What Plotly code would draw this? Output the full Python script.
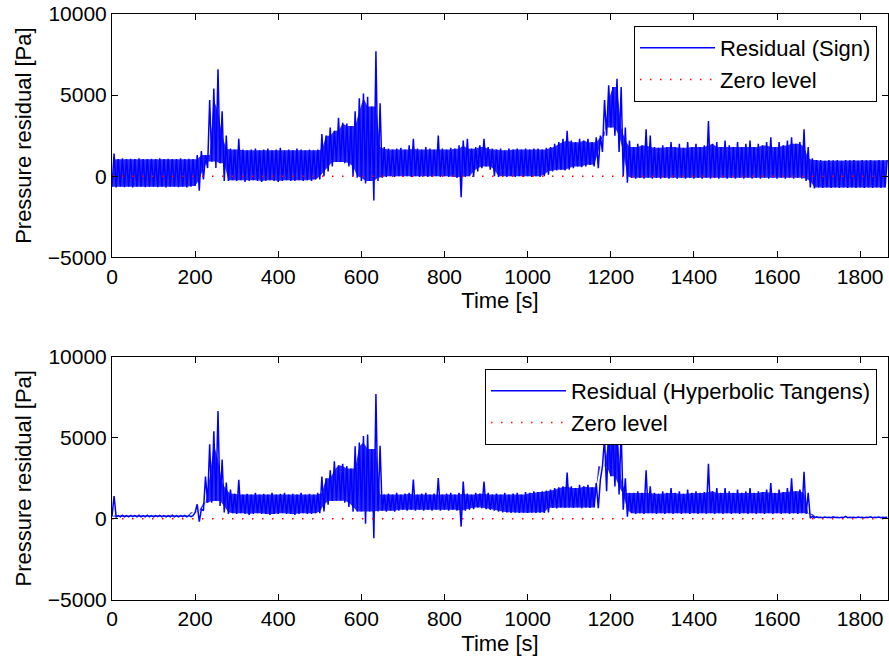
import plotly.graph_objects as go
from plotly.subplots import make_subplots

# Sample spacing of the envelope readings [s]
step_s = 10
# Residual (Sign): upper and lower envelope, one value per 10 s (0 .. 1860 s)
sign_hi = [
    1400, 1050, 1100, 1050, 1080, 1050, 1100, 1050, 1050, 1080,
    1050, 1100, 1050, 1080, 1050, 1050, 1100, 1050, 1080, 1050,
    1300, 1550, 1300, 4700, 5400, 6600, 4000, 2500, 1700, 1650,
    2300, 1650, 1600, 1650, 1700, 1600, 1650, 1700, 1600, 1650,
    1750, 1600, 1650, 1600, 1700, 1650, 1600, 1650, 1600, 1650,
    2600, 2500, 3000, 2800, 3600, 3300, 3250, 3100, 4000, 4800,
    5100, 4900, 4300, 7700, 4500, 1800, 1700, 1650, 1700, 1750,
    1650, 1900, 2300, 1700, 1650, 1800, 1700, 1650, 2500, 1700,
    1650, 1750, 1700, 1900, 2200, 2300, 1700, 1800, 1900, 2300,
    1800, 1700, 1650, 1700, 1600, 1700, 1650, 1700, 1650, 1700,
    1650, 1700, 1700, 1650, 1750, 1800, 2000, 2100, 2300, 2800,
    2200, 2100, 2300, 2200, 2300, 2100, 2400, 2500, 4700, 5600,
    5500, 6000, 5500, 3000, 2200, 1800, 2000, 1900, 2900, 2500,
    1800, 1750, 1900, 1800, 2100, 1800, 2000, 1750, 2100, 1800,
    2000, 1800, 1900, 3400, 2000, 2100, 1800, 2200, 1900, 1800,
    2100, 1800, 2000, 2200, 1800, 2000, 1900, 2100, 2400, 1800,
    2100, 1900, 2200, 2400, 2000, 2100, 2900, 1800, 1100, 1000,
    1000, 950, 1000, 980, 1000, 950, 1000, 980, 1000, 950,
    1000, 980, 1000, 950, 1000, 980, 1000,
]
sign_lo = [
    -650, -700, -650, -680, -650, -700, -650, -650, -680, -650,
    -650, -680, -650, -700, -650, -650, -680, -650, -700, -650,
    -600, -900, -200, 500, 900, 500, 800, -300, -300, -250,
    -300, -250, -350, -300, -250, -300, -350, -300, -250, -300,
    -350, -300, -250, -300, -300, -250, -300, -250, -300, -200,
    -200, 0, 300, 600, 880, 880, 800, 600, 0, -100,
    -300, -450, -300, -1500, -300, -100, -50, 0, -50, 0,
    -50, 0, -50, 0, -50, 0, -50, -50, 0, -50,
    0, -50, -50, -100, -1300, -50, 0, -50, 300, 500,
    600, 400, 0, -50, 0, -50, 0, -50, 0, -50,
    0, -50, 0, -50, 0, 100, 300, 350, 400, 350,
    400, 500, 600, 550, 600, 700, 600, 500, 1500, 2500,
    3000, 2500, 1500, 0, -400, -100, -150, -100, -150, -100,
    -150, -100, -150, -100, -150, -100, -150, -100, -150, -100,
    -150, -100, -150, -100, -150, -100, -150, -100, -150, -100,
    -150, -100, -150, -100, -150, -100, -150, -100, -150, -100,
    -150, -100, -150, -100, -150, -100, -150, -300, -700, -750,
    -700, -720, -700, -720, -700, -720, -700, -720, -700, -720,
    -700, -720, -700, -720, -700, -720, -700,
]
# Residual (Hyperbolic Tangens): upper and lower envelope
tanh_hi = [
    1400, 200, 220, 200, 210, 200, 220, 200, 230, 200,
    200, 210, 200, 200, 220, 200, 200, 210, 200, 200,
    900, 600, 2600, 4600, 5400, 6650, 3650, 2230, 1800, 1550,
    2400, 1500, 1550, 1500, 1600, 1500, 1550, 1500, 1600, 1500,
    1550, 1600, 1500, 1550, 1500, 1600, 1500, 1550, 1500, 1600,
    2600, 2500, 3000, 3550, 3300, 3400, 3250, 3100, 4480, 4700,
    5100, 5200, 4300, 7700, 4500, 1500, 1550, 1500, 1600, 1500,
    1550, 1600, 2420, 1500, 1550, 1600, 1500, 1550, 2520, 1500,
    1550, 1600, 1500, 1600, 2300, 1550, 1500, 1600, 1550, 2300,
    1600, 1500, 1550, 1500, 1600, 1500, 1550, 1600, 1500, 1650,
    1600, 1700, 1650, 1700, 1750, 1800, 1900, 1950, 2000, 2850,
    2000, 1900, 2100, 2000, 2100, 1950, 2200, 2400, 5000, 5600,
    5500, 5800, 5400, 2500, 1600, 1600, 1700, 1600, 3000, 2000,
    1600, 1550, 1700, 1600, 1900, 1600, 1700, 1550, 1800, 1600,
    1700, 1600, 1650, 3400, 1700, 1900, 1600, 1900, 1700, 1600,
    1800, 1600, 1700, 1900, 1600, 1700, 1650, 1800, 2200, 1600,
    1800, 1650, 1900, 2500, 1700, 1800, 2900, 1600, 150, 120,
    100, 110, 100, 120, 100, 100, 150, 100, 100, 110,
    100, 100, 130, 100, 110, 100, 100,
]
tanh_lo = [
    150, 120, 120, 130, 120, 130, 120, 130, 120, 130,
    120, 130, 120, 120, 130, 120, 120, 130, 120, 140,
    400, -170, 500, 1000, 1000, 1100, 800, 400, 300, 350,
    300, 350, 300, 250, 300, 350, 300, 300, 250, 300,
    300, 350, 300, 300, 250, 300, 350, 300, 300, 350,
    350, 450, 870, 1100, 1120, 1120, 1000, 740, 440, 450,
    450, -300, 450, -1200, 450, 500, 450, 500, 450, 500,
    560, 500, 560, 500, 560, 500, 560, 500, 560, 500,
    560, 500, 560, 500, -480, 500, 560, 600, 700, 650,
    600, 560, 500, 450, 400, 400, 370, 380, 370, 380,
    370, 380, 370, 380, 370, 400, 680, 650, 700, 680,
    700, 680, 700, 650, 700, 680, 700, 650, 3240, 1700,
    2620, 2000, 1500, 560, 140, 350, 300, 350, 300, 350,
    350, 300, 350, 300, 350, 300, 350, 300, 350, 300,
    350, 300, 350, 300, 350, 300, 350, 300, 350, 300,
    350, 300, 350, 300, 350, 300, 350, 300, 350, 300,
    350, 300, 350, 300, 350, 300, 350, 300, 50, 60,
    80, 70, 80, 70, 80, 70, 80, 70, 80, 70,
    80, 70, 80, 70, 80, 70, 80,
]
zero_level = 0
x_max = 1867
x_ticks = [0, 200, 400, 600, 800, 1000, 1200, 1400, 1600, 1800]
y_ticks = [-5000, 0, 5000, 10000]
y_tick_labels = ["\u22125000", "0", "5000", "10000"]


def zigzag(lo, hi):
    xs, ys = [], []
    for i, (a, b) in enumerate(zip(lo, hi)):
        t = i * step_s
        xs += [t, t + step_s / 2]
        ys += [a, b]
    return xs, ys


def core_band(lo, hi):
    """Dense core of the oscillation: isolated spikes/dips stay as line strokes only."""
    n = len(lo)
    top, bot = [], []
    for i in range(n):
        j0, j1 = max(0, i - 1), min(n, i + 2)
        top.append(min(hi[j0:j1]))
        bot.append(max(lo[j0:j1]))
    top = [max(a, b) for a, b in zip(top, bot)]
    ts = [i * step_s for i in range(n)]
    return ts, bot, top


FONT = "Liberation Sans, Arial, sans-serif"
BLUE = "rgb(0,0,255)"
fig = make_subplots(rows=2, cols=1, vertical_spacing=0.17)

for row, (lo, hi, name, leg) in enumerate(
    [(sign_lo, sign_hi, "Residual (Sign)", "legend"),
     (tanh_lo, tanh_hi, "Residual (Hyperbolic Tangens)", "legend2")], start=1):
    ts, bot, top = core_band(lo, hi)
    fig.add_trace(go.Scatter(x=ts, y=bot, mode="lines", line=dict(width=0, color=BLUE),
                             showlegend=False, hoverinfo="skip", legend=leg), row=row, col=1)
    fig.add_trace(go.Scatter(x=[t + step_s / 2 for t in ts], y=top, mode="lines",
                             line=dict(width=0, color=BLUE), fill="tonexty",
                             fillcolor="rgba(0,0,255,0.82)",
                             showlegend=False, hoverinfo="skip", legend=leg), row=row, col=1)
    xs, ys = zigzag(lo, hi)
    fig.add_trace(go.Scatter(x=xs, y=ys, mode="lines", name=name,
                             line=dict(color=BLUE, width=1.5),
                             legend=leg), row=row, col=1)
    fig.add_trace(go.Scatter(x=[0, x_max], y=[zero_level, zero_level], mode="lines",
                             name="Zero level",
                             line=dict(color="rgb(255,0,0)", width=1.5, dash="1.5px,8.5px"),
                             legend=leg), row=row, col=1)

axis_common = dict(showline=True, linecolor="black", linewidth=1, mirror="ticks",
                   ticks="inside", ticklen=6, tickcolor="black", showgrid=False,
                   zeroline=False, tickfont=dict(family=FONT, size=21, color="black"))
for r, dom in [(1, [0.5848, 1.0]), (2, [0.0, 0.4154])]:
    fig.update_xaxes(range=[0, x_max], tickvals=x_ticks,
                     title=dict(text="Time [s]", font=dict(family=FONT, size=22, color="black"), standoff=6),
                     row=r, col=1, **axis_common)
    fig.update_yaxes(range=[-5000, 10000], tickvals=y_ticks, ticktext=y_tick_labels, domain=dom,
                     title=dict(text="Pressure residual [Pa]", font=dict(family=FONT, size=22, color="black"), standoff=10),
                     row=r, col=1, **axis_common)

legend_common = dict(bgcolor="white", bordercolor="black", borderwidth=1,
                     font=dict(family=FONT, size=22, color="black"),
                     xanchor="right", yanchor="top", tracegroupgap=0,
                     traceorder="normal", itemwidth=75)
fig.update_layout(
    width=889, height=666,
    margin=dict(l=112, r=1, t=14, b=66),
    paper_bgcolor="white", plot_bgcolor="white",
    font=dict(family=FONT, color="black"),
    legend=dict(x=0.9858, y=0.9795, **legend_common),
    legend2=dict(x=0.9858, y=0.3942, **legend_common),
    showlegend=True,
)

fig.write_html("out.html")
